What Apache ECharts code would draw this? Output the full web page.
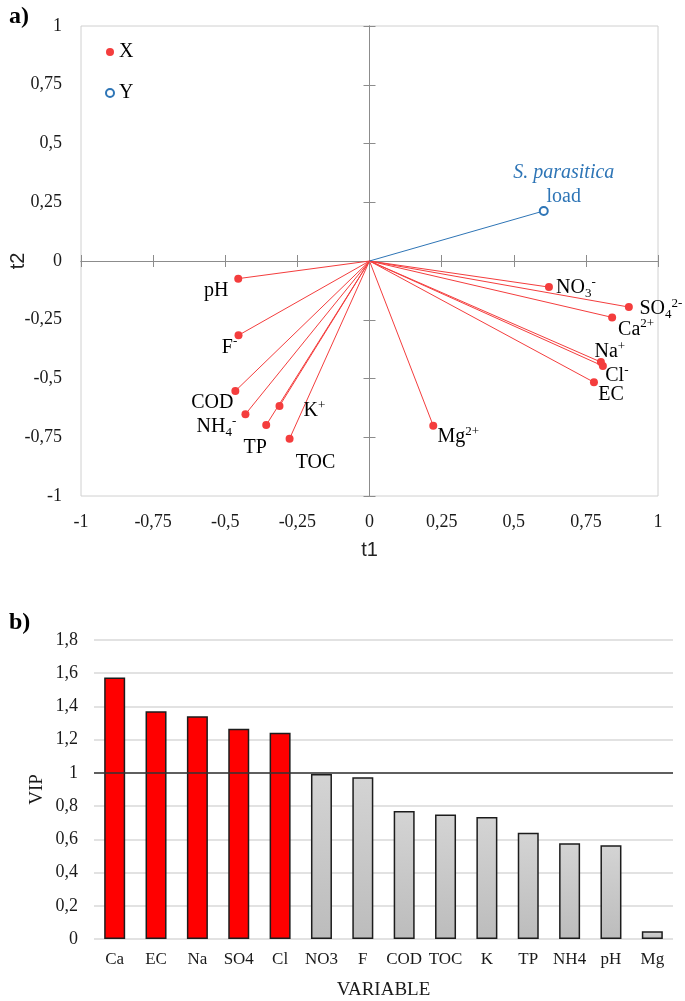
<!DOCTYPE html>
<html>
<head>
<meta charset="utf-8">
<script src="https://cdn.jsdelivr.net/npm/echarts@6/dist/echarts.min.js"></script>
<style>html,body{margin:0;padding:0;background:#fff}#c{width:685px;height:1001px}</style>
</head>
<body>
<div id="c"></div>
<script>
// ---- Data: panel a) loadings ----
var xNames  = ['pH', 'F', 'COD', 'NH4', 'TP', 'K', 'TOC', 'Mg', 'NO3', 'SO4', 'Ca', 'Na', 'Cl', 'EC'];
var xLabels = ['pH', 'F{sp|-}', 'COD', 'NH{sb|4}{sp|-}', 'TP', 'K{sp|+}', 'TOC', 'Mg{sp|2+}', 'NO{sb|3}{sp|-}', 'SO{sb|4}{sp|2-}', 'Ca{sp|2+}', 'Na{sp|+}', 'Cl{sp|-}', 'EC'];
var t1X = [-0.455, -0.454, -0.465, -0.430, -0.358, -0.312, -0.277, 0.221, 0.622, 0.899, 0.841, 0.802, 0.809, 0.778];
var t2X = [-0.075, -0.316, -0.553, -0.652, -0.698, -0.617, -0.756, -0.701, -0.111, -0.196, -0.240, -0.430, -0.447, -0.516];
var yName = 'S. parasitica load';
var t1Y = [0.604];
var t2Y = [0.213];

// ---- Data: panel b) VIP ----
var vipCats = ['Ca', 'EC', 'Na', 'SO4', 'Cl', 'NO3', 'F', 'COD', 'TOC', 'K', 'TP', 'NH4', 'pH', 'Mg'];
var vipVals = [1.575, 1.371, 1.341, 1.265, 1.242, 0.994, 0.974, 0.770, 0.749, 0.735, 0.639, 0.577, 0.565, 0.046];
var vipThreshold = 1;

// ---- Styles (label offsets in pixels) ----
var labelOffsets = [[-22, 12], [-9, 12], [-23, 12], [-29, 13], [-11, 23], [35, 5], [26, 24], [25, 11], [27, 1], [32, 2], [24, 12], [9, -10], [14, 10], [17, 12]];
var RED = '#f43d3d', BLUE = '#2e75b6';
var SERIF = '"Liberation Serif", "Times New Roman", serif';
var SANS = '"Liberation Sans", Arial, sans-serif';

function fmt(v) { return String(+(+v).toFixed(2)).replace('.', ','); }

var chart = echarts.init(document.getElementById('c'));

var richStyles = {
  sb: { fontSize: 13, fontFamily: SERIF, color: '#000', verticalAlign: 'bottom', lineHeight: 12 },
  sp: { fontSize: 13, fontFamily: SERIF, color: '#000', verticalAlign: 'top', lineHeight: 12 }
};

var series = [];
xNames.forEach(function (n, i) {
  series.push({
    type: 'line', xAxisIndex: 0, yAxisIndex: 0, silent: true, symbol: 'none',
    lineStyle: { color: RED, width: 1 }, z: 2,
    data: [[0, 0], [t1X[i], t2X[i]]]
  });
});
series.push({
  type: 'line', xAxisIndex: 0, yAxisIndex: 0, silent: true, symbol: 'none',
  lineStyle: { color: BLUE, width: 1 }, z: 2,
  data: [[0, 0], [t1Y[0], t2Y[0]]]
});
series.push({
  name: 'X', type: 'scatter', xAxisIndex: 0, yAxisIndex: 0, symbolSize: 8, z: 4,
  itemStyle: { color: RED, opacity: 1 },
  data: xNames.map(function (n, i) {
    return {
      name: n, value: [t1X[i], t2X[i]],
      label: { show: true, position: 'inside', offset: labelOffsets[i], formatter: xLabels[i] }
    };
  }),
  label: { show: true, color: '#000', fontFamily: SERIF, fontSize: 20, lineHeight: 24, rich: richStyles }
});
series.push({
  name: 'Y', type: 'scatter', xAxisIndex: 0, yAxisIndex: 0, symbol: 'emptyCircle', symbolSize: 8, z: 4,
  itemStyle: { color: BLUE, borderColor: BLUE, borderWidth: 1.2, opacity: 1 },
  data: [{ name: yName, value: [t1Y[0], t2Y[0]] }],
  label: {
    show: true, position: 'inside', offset: [20, -26], align: 'center',
    formatter: '{it|S. parasitica}\n{nm|load}',
    rich: {
      it: { fontFamily: SERIF, fontStyle: 'italic', fontSize: 20, color: BLUE, lineHeight: 24, align: 'center' },
      nm: { fontFamily: SERIF, fontSize: 20, color: BLUE, lineHeight: 24, align: 'center' }
    }
  }
});
series.push({
  type: 'bar', xAxisIndex: 3, yAxisIndex: 3, barWidth: 21, data: vipVals,
  itemStyle: {
    borderColor: '#1c1c1c', borderWidth: 1.5,
    color: function (p) {
      return p.value > vipThreshold ? '#ff0000' : new echarts.graphic.LinearGradient(0, 0, 0, 1, [
        { offset: 0, color: '#d4d4d4' }, { offset: 1, color: '#bcbcbc' }]);
    }
  },
  markLine: {
    silent: true, symbol: 'none', label: { show: false },
    lineStyle: { color: '#333', width: 1.5, type: 'solid' },
    data: [{ yAxis: vipThreshold }]
  }
});

var zeroAxisLine = { color: '#8c8c8c', width: 1 };
function zeroAxis(pos) {
  return { gridIndex: 0, type: 'value', min: -1, max: 1, interval: 0.25, position: pos,
    axisLine: { show: true, onZero: true, lineStyle: zeroAxisLine },
    axisTick: { show: true, length: 6, lineStyle: zeroAxisLine },
    axisLabel: { show: false }, splitLine: { show: false } };
}

chart.setOption({
  animation: false,
  backgroundColor: '#fff',
  title: [
    { text: 'a)', left: 4, top: 0, textStyle: { fontFamily: SERIF, fontWeight: 'bold', fontSize: 24, color: '#000' } },
    { text: 'b)', left: 4, top: 606, textStyle: { fontFamily: SERIF, fontWeight: 'bold', fontSize: 24, color: '#000' } }
  ],
  legend: {
    data: ['X', 'Y'], orient: 'vertical', left: 100, top: 37, itemWidth: 8, itemHeight: 8, itemGap: 21,
    textStyle: { fontFamily: SERIF, fontSize: 20, color: '#000' }, selectedMode: false
  },
  grid: [
    { left: 81, right: 27, top: 26, bottom: 505, show: true, borderColor: '#d0d0d0', borderWidth: 1, outerBoundsMode: 'none', containLabel: false },
    { left: 94, right: 12, top: 640, bottom: 62, outerBoundsMode: 'none', containLabel: false }
  ],
  xAxis: [
    { gridIndex: 0, type: 'value', min: -1, max: 1, interval: 0.25, position: 'bottom',
      axisLine: { show: false, onZero: false }, axisTick: { show: false }, splitLine: { show: false },
      axisLabel: { fontFamily: SERIF, fontSize: 18, color: '#1a1a1a', margin: 17, formatter: fmt },
      name: 't1', nameLocation: 'middle', nameGap: 44, nameMoveOverlap: false,
      nameTextStyle: { fontFamily: SANS, fontSize: 20, color: '#222' } },
    zeroAxis('bottom'),
    zeroAxis('top'),
    { gridIndex: 1, type: 'category', data: vipCats,
      axisLine: { show: false }, axisTick: { show: false },
      axisLabel: { fontFamily: SERIF, fontSize: 17, color: '#1a1a1a', margin: 12, interval: 0 },
      name: 'VARIABLE', nameLocation: 'middle', nameGap: 42, nameMoveOverlap: false,
      nameTextStyle: { fontFamily: SERIF, fontSize: 19, color: '#1a1a1a' } }
  ],
  yAxis: [
    { gridIndex: 0, type: 'value', min: -1, max: 1, interval: 0.25, position: 'left',
      axisLine: { show: false, onZero: false }, axisTick: { show: false }, splitLine: { show: false },
      axisLabel: { fontFamily: SERIF, fontSize: 18, color: '#1a1a1a', margin: 19, formatter: fmt },
      name: 't2', nameLocation: 'middle', nameGap: 53, nameMoveOverlap: false,
      nameTextStyle: { fontFamily: SANS, fontSize: 20, color: '#222' } },
    zeroAxis('left'),
    zeroAxis('right'),
    { gridIndex: 1, type: 'value', min: 0, max: 1.8, interval: 0.2,
      axisLine: { show: false }, axisTick: { show: false },
      splitLine: { lineStyle: { color: '#d9d9d9', width: 1.5 } },
      axisLabel: { fontFamily: SERIF, fontSize: 18, color: '#1a1a1a', margin: 16, formatter: fmt },
      name: 'VIP', nameLocation: 'middle', nameGap: 47, nameMoveOverlap: false,
      nameTextStyle: { fontFamily: SERIF, fontSize: 19, color: '#1a1a1a' } }
  ],
  series: series
});
</script>
</body>
</html>
